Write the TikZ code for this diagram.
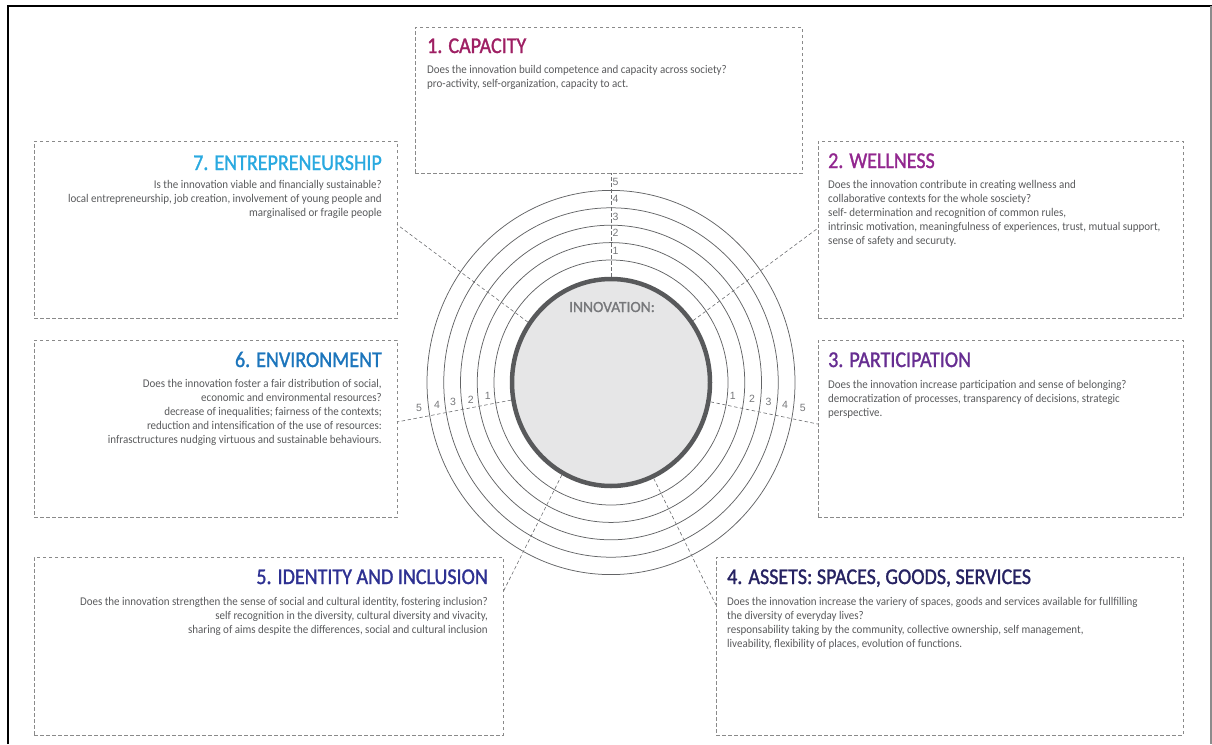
\documentclass[tikz,border=0pt]{standalone}
\usepackage{fontspec}
\setmainfont{Carlito}
\newfontfamily\bodyfont[FakeStretch=0.93]{Carlito}
\newfontfamily\titlefont[FakeStretch=0.89,FakeBold=1.3]{Carlito}
\newfontfamily\corefont[FakeBold=1.2]{Carlito}
\newfontfamily\numfont{Liberation Sans}
\usetikzlibrary{shapes.geometric,calc}

\definecolor{capcol}{HTML}{9E1F63}
\definecolor{entcol}{HTML}{29A9E0}
\definecolor{wellcol}{HTML}{92278F}
\definecolor{envcol}{HTML}{1C75BC}
\definecolor{partcol}{HTML}{662D91}
\definecolor{identcol}{HTML}{2E3192}
\definecolor{assetcol}{HTML}{262262}
\definecolor{bodygray}{HTML}{595A5C}
\definecolor{boxgray}{HTML}{8A8A8A}
\definecolor{spokegray}{HTML}{6D6E71}
\definecolor{ringgray}{HTML}{636466}
\definecolor{coregray}{HTML}{58595B}
\definecolor{corefill}{HTML}{E6E6E7}
\definecolor{numgray}{HTML}{77787B}

% paragraph boxes whose baseline is the first line
\newcommand{\textL}[2]{\parbox[t]{#1}{\bodyfont\fontsize{11.8}{14}\selectfont\raggedright #2}}
\newcommand{\textR}[2]{\parbox[t]{#1}{\bodyfont\fontsize{11.8}{14}\selectfont\raggedleft #2}}

\tikzset{
  panel/.style={draw=boxgray, dash pattern=on 3.5pt off 2.5pt, line width=0.7pt,
    inner sep=0pt, outer sep=0pt, anchor=north west},
  heading/.style={inner sep=0pt, font=\titlefont\fontsize{22.5}{22.5}\selectfont},
  bodytext/.style={inner sep=0pt, text=bodygray},
  spoke/.style={draw=spokegray, dash pattern=on 3.5pt off 2.5pt, line width=0.6pt},
  ring/.style={draw=ringgray, line width=0.75pt},
  tick/.style={inner sep=0pt, font=\numfont\fontsize{10.5}{10.5}\selectfont, text=numgray},
}

\begin{document}
\begin{tikzpicture}[x=1pt,y=-1pt]
\useasboundingbox (0,0) rectangle (1212,744);

% outer frame
\draw[line width=2.2pt] (8,744) -- (8,6) -- (1212,6);
\draw[black!45, line width=1.2pt] (1211,6) -- (1211,744);

% dashed panels
\node[panel, minimum width=387pt, minimum height=146pt] (cap)    at (415,27)  {};
\node[panel, minimum width=363pt, minimum height=177pt] (ent)    at (34,141)  {};
\node[panel, minimum width=365pt, minimum height=177pt] (well)   at (818,141) {};
\node[panel, minimum width=363pt, minimum height=177pt] (env)    at (34,340)  {};
\node[panel, minimum width=365pt, minimum height=177pt] (part)   at (818,340) {};
\node[panel, minimum width=469pt, minimum height=178pt] (ident)  at (34,557)  {};
\node[panel, minimum width=467pt, minimum height=178pt] (assets) at (716,557) {};

% headings
\node[heading, text=capcol,   anchor=base west] (capT)    at (427,53)  {1. CAPACITY};
\node[heading, text=entcol,   anchor=base east] (entT)    at (382,170) {7. ENTREPRENEURSHIP};
\node[heading, text=wellcol,  anchor=base west] (wellT)   at (828,168) {2. WELLNESS};
\node[heading, text=envcol,   anchor=base east] (envT)    at (382,367) {6. ENVIRONMENT};
\node[heading, text=partcol,  anchor=base west] (partT)   at (828,367) {3. PARTICIPATION};
\node[heading, text=identcol, anchor=base east] (identT)  at (488,584) {5. IDENTITY AND INCLUSION};
\node[heading, text=assetcol, anchor=base west] (assetsT) at (727,584) {4. ASSETS: SPACES, GOODS, SERVICES};

% descriptions
\node[bodytext, anchor=base west] (capB) at (427,73) {\textL{370pt}{%
  Does the innovation build competence and capacity across society?\\
  pro-activity, self-organization, capacity to act.}};
\node[bodytext, anchor=base east] (entB) at (382,188) {\textR{345pt}{%
  Is the innovation viable and financially sustainable?\\
  local entrepreneurship, job creation, involvement of young people and\\
  marginalised or fragile people}};
\node[bodytext, anchor=base west] (wellB) at (828,188) {\textL{350pt}{%
  Does the innovation contribute in creating wellness and\\
  collaborative contexts for the whole sosciety?\\
  self- determination and recognition of common rules,\\
  intrinsic motivation, meaningfulness of experiences, trust, mutual support,\\
  sense of safety and securuty.}};
\node[bodytext, anchor=base east] (envB) at (382,387) {\textR{345pt}{%
  Does the innovation foster a fair distribution of social,\\
  economic and environmental resources?\\
  decrease of inequalities; fairness of the contexts;\\
  reduction and intensification of the use of resources:\\
  infrasctructures nudging virtuous and sustainable behaviours.}};
\node[bodytext, anchor=base west] (partB) at (828,388) {\textL{350pt}{%
  Does the innovation increase participation and sense of belonging?\\
  democratization of processes, transparency of decisions, strategic\\
  perspective.}};
\node[bodytext, anchor=base east] (identB) at (488,605) {\textR{450pt}{%
  Does the innovation strengthen the sense of social and cultural identity, fostering inclusion?\\
  self recognition in the diversity, cultural diversity and vivacity,\\
  sharing of aims despite the differences, social and cultural inclusion}};
\node[bodytext, anchor=base west] (assetsB) at (727,605) {\textL{450pt}{%
  Does the innovation increase the variery of spaces, goods and services available for fullfilling\\
  the diversity of everyday lives?\\
  responsability taking by the community, collective ownership, self management,\\
  liveability, flexibility of places, evolution of functions.}};

% score rings
\coordinate (hub) at (611,382.5);
\foreach \k in {0,...,4} {
  \pgfmathsetmacro\rx{117+16.75*\k}
  \pgfmathsetmacro\ry{122.5+17.4*\k}
  \draw[ring] (hub) ellipse [x radius=\rx pt, y radius=\ry pt];
}

% core
\node[ellipse, draw=coregray, line width=4.5pt, fill=corefill, inner sep=0pt,
  minimum width=198pt, minimum height=207pt] (inner) at (hub) {};
\node[inner sep=0pt, anchor=base, text=numgray, font=\corefont\fontsize{15.5}{15.5}\selectfont] (innoT)
  at (612,312) {INNOVATION:};

% spokes from the core to each panel
\draw[spoke] (inner.north) -- (inner.north |- cap.south);
\draw[spoke] (inner.144) -- ($(ent.north east)!0.472!(ent.south east)$);
\draw[spoke] (inner.37)  -- ($(well.north west)!0.492!(well.south west)$);
\draw[spoke] (inner.-11) -- ($(part.north west)!0.475!(part.south west)$);
\draw[spoke] (inner.190) -- ($(env.north east)!0.463!(env.south east)$);
\draw[spoke] (inner.242) -- ($(ident.north east)!0.197!(ident.south east)$);
\draw[spoke] (inner.294) -- ($(assets.north west)!0.270!(assets.south west)$);

% scale numbers
\foreach \k/\y in {1/251,2/233.3,3/216.7,4/199.3,5/181.7}
  \node[tick] (up\k) at (615.5,\y) {\k};
\foreach \k/\x/\y in {1/732.7/396,2/752/399,3/768.5/402,4/785/405,5/802.7/407.7}
  \node[tick] (rt\k) at (\x,\y) {\k};
\foreach \k/\x/\y in {1/487.7/396,2/470.7/400,3/453/402,4/437/405,5/419/407.7}
  \node[tick] (lf\k) at (\x,\y) {\k};
\end{tikzpicture}
\end{document}
